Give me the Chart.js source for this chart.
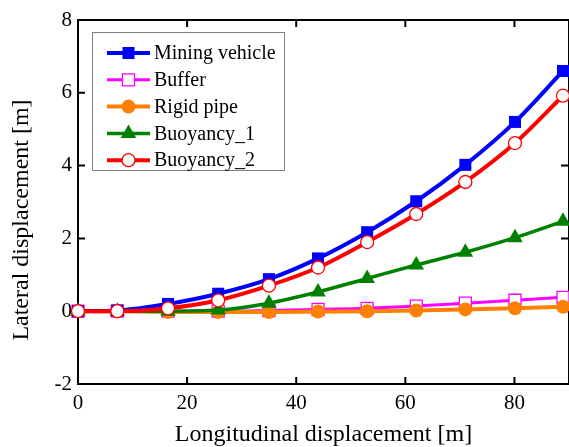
<!DOCTYPE html>
<html>
<head>
<meta charset="utf-8">
<script src="https://cdn.jsdelivr.net/npm/chart.js@4.4.0/dist/chart.umd.min.js"></script>
<style>
html, body { margin: 0; padding: 0; background: #fff; }
</style>
</head>
<body>
<canvas id="lateralChart" width="569" height="447"></canvas>
<script>
// longitudinal displacement of each node [m]
var longitudinal = [0, 7.2, 16.5, 25.7, 35, 44, 53, 62, 71, 80.1, 88.9];

// lateral displacement [m]
var miningVehicle = [0, 0.02, 0.2, 0.48, 0.88, 1.45, 2.17, 3.02, 4.02, 5.2, 6.6];
var buffer = [0, 0, 0, 0, 0.02, 0.05, 0.08, 0.14, 0.22, 0.3, 0.38];
var rigidPipe = [0, 0, -0.02, -0.02, -0.02, -0.01, 0, 0.02, 0.05, 0.08, 0.12];
var buoyancy1 = [0, 0, 0, 0.03, 0.22, 0.53, 0.9, 1.27, 1.62, 2.02, 2.47];
var buoyancy2 = [0, 0, 0.08, 0.3, 0.7, 1.2, 1.9, 2.67, 3.55, 4.62, 5.92];

var seriesNames = ['Mining vehicle', 'Buffer', 'Rigid pipe', 'Buoyancy_1', 'Buoyancy_2'];

var xMin = 0, xMax = 90, xStep = 20;
var yMin = -2, yMax = 8, yStep = 2;

var serif = "'Liberation Serif', 'Times New Roman', serif";

function pts(ys) {
    return longitudinal.map(function (x, k) { return { x: x, y: ys[k] }; });
}

// draws the same marker shapes chart.js uses (for the legend)
function drawMarker(ctx, style, x, y, r, fill, stroke, lw) {
    ctx.beginPath();
    if (style == 'rect') {
        var s = r * Math.SQRT1_2;
        ctx.rect(x - s, y - s, 2 * s, 2 * s);
    } else if (style == 'circle') {
        ctx.arc(x, y, r, 0, Math.PI * 2);
    } else if (style == 'triangle') {
        var a = 0;
        ctx.moveTo(x + Math.sin(a) * r, y - Math.cos(a) * r);
        a += Math.PI * 2 / 3;
        ctx.lineTo(x + Math.sin(a) * r, y - Math.cos(a) * r);
        a += Math.PI * 2 / 3;
        ctx.lineTo(x + Math.sin(a) * r, y - Math.cos(a) * r);
        ctx.closePath();
    }
    ctx.fillStyle = fill;
    ctx.fill();
    if (lw > 0) {
        ctx.lineWidth = lw;
        ctx.strokeStyle = stroke;
        ctx.stroke();
    }
}

// box + inward ticks on all four sides
var frameTicks = {
    id: 'frameTicks',
    beforeDatasetsDraw: function (chart) {
        var ctx = chart.ctx, a = chart.chartArea;
        var sx = chart.scales.x, sy = chart.scales.y;
        ctx.save();
        ctx.strokeStyle = '#000';
        ctx.lineWidth = 2;
        ctx.strokeRect(a.left, a.top, a.right - a.left, a.bottom - a.top);
        ctx.beginPath();
        sx.ticks.forEach(function (t) {
            var px = sx.getPixelForValue(t.value);
            ctx.moveTo(px, a.bottom); ctx.lineTo(px, a.bottom - 7);
            ctx.moveTo(px, a.top); ctx.lineTo(px, a.top + 7);
        });
        sy.ticks.forEach(function (t) {
            var py = sy.getPixelForValue(t.value);
            ctx.moveTo(a.left, py); ctx.lineTo(a.left + 7, py);
            ctx.moveTo(a.right, py); ctx.lineTo(a.right - 8, py);
        });
        ctx.stroke();

        // y axis title
        ctx.translate(22, 220);
        ctx.rotate(-Math.PI / 2);
        ctx.fillStyle = '#000';
        ctx.font = '24px ' + serif;
        ctx.textAlign = 'center';
        ctx.textBaseline = 'middle';
        ctx.fillText('Lateral displacement [m]', 0, 0);
        ctx.restore();
    }
};

// legend box in the upper left of the plot
var boxLegend = {
    id: 'boxLegend',
    afterDraw: function (chart) {
        var ctx = chart.ctx;
        ctx.save();
        ctx.strokeStyle = '#808080';
        ctx.lineWidth = 1;
        ctx.fillStyle = '#fff';
        ctx.fillRect(92.5, 32.5, 192, 138);
        ctx.strokeRect(92.5, 32.5, 192, 138);
        ctx.font = '20px ' + serif;
        ctx.textBaseline = 'middle';
        ctx.textAlign = 'left';
        chart.data.datasets.forEach(function (ds, k) {
            var y = 53 + k * 26.8;
            ctx.beginPath();
            ctx.moveTo(107, y);
            ctx.lineTo(150, y);
            ctx.lineWidth = ds.borderWidth;
            ctx.strokeStyle = ds.borderColor;
            ctx.stroke();
            drawMarker(ctx, ds.pointStyle, 128.5, y, ds.pointRadius,
                ds.pointBackgroundColor, ds.pointBorderColor, ds.pointBorderWidth);
            ctx.fillStyle = '#000';
            ctx.fillText(ds.label, 154, y + 1);
        });
        ctx.restore();
    }
};

var lateralChart = new Chart(document.getElementById('lateralChart').getContext('2d'), {
    type: 'line',
    data: {
        datasets: [{
            label: seriesNames[0],
            data: pts(miningVehicle),
            borderColor: '#0000ff',
            borderWidth: 4,
            pointStyle: 'rect',
            pointRadius: 8.5,
            pointBackgroundColor: '#0000ff',
            pointBorderColor: '#0000ff',
            pointBorderWidth: 0,
            order: 1
        }, {
            label: seriesNames[1],
            data: pts(buffer),
            borderColor: '#ff00ff',
            borderWidth: 3,
            pointStyle: 'rect',
            pointRadius: 8.5,
            pointBackgroundColor: '#ffffff',
            pointBorderColor: '#ff00ff',
            pointBorderWidth: 1.3,
            order: 4
        }, {
            label: seriesNames[2],
            data: pts(rigidPipe),
            borderColor: '#ff8000',
            borderWidth: 4,
            pointStyle: 'circle',
            pointRadius: 7,
            pointBackgroundColor: '#ff8000',
            pointBorderColor: '#ff8000',
            pointBorderWidth: 0,
            order: 3
        }, {
            label: seriesNames[3],
            data: pts(buoyancy1),
            borderColor: '#008000',
            borderWidth: 3.5,
            pointStyle: 'triangle',
            pointRadius: 9,
            pointBackgroundColor: '#008000',
            pointBorderColor: '#008000',
            pointBorderWidth: 0,
            order: 2
        }, {
            label: seriesNames[4],
            data: pts(buoyancy2),
            borderColor: '#ff0000',
            borderWidth: 4,
            pointStyle: 'circle',
            pointRadius: 6.5,
            pointBackgroundColor: '#ffffff',
            pointBorderColor: '#ff0000',
            pointBorderWidth: 1.3,
            order: 0
        }]
    },
    options: {
        responsive: false,
        animation: false,
        events: [],
        datasets: { line: { clip: false, cubicInterpolationMode: 'monotone' } },
        layout: { autoPadding: false, padding: { top: 20, right: -2, left: 0, bottom: 0 } },
        plugins: {
            legend: { display: false },
            tooltip: { enabled: false }
        },
        scales: {
            x: {
                type: 'linear',
                min: xMin,
                max: xMax,
                grid: { display: false, drawTicks: false },
                border: { display: false },
                ticks: {
                    stepSize: xStep,
                    includeBounds: false,
                    padding: 7,
                    color: '#000',
                    font: { family: serif, size: 21 },
                    maxRotation: 0
                },
                title: {
                    display: true,
                    text: 'Longitudinal displacement [m]',
                    color: '#000',
                    font: { family: serif, size: 24, lineHeight: 1 },
                    padding: { top: 0, bottom: 0 }
                },
                afterFit: function (s) { s.height = 63; }
            },
            y: {
                min: yMin,
                max: yMax,
                grid: { display: false, drawTicks: false },
                border: { display: false },
                ticks: {
                    stepSize: yStep,
                    padding: 6,
                    color: '#000',
                    font: { family: serif, size: 21 }
                },
                afterFit: function (s) { s.width = 78; }
            }
        }
    },
    plugins: [frameTicks, boxLegend]
});
</script>
</body>
</html>
